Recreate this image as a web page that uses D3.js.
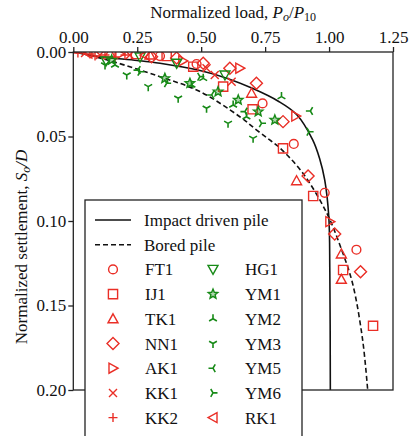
<!DOCTYPE html>
<html>
  <head>
    <meta charset="utf-8" />
    <script src="https://d3js.org/d3.v7.min.js"></script>
    <style>
      body { margin: 0; background: #fff; }
      text { font-family: 'Liberation Serif', 'Times New Roman', 'DejaVu Serif', serif; fill: #111; }
    </style>
  </head>
  <body>
    <div id="chart"></div>
    <script>
      // fitted curves [load, settlement]
      var impactX = [0, 0.104, 0.25, 0.339, 0.495, 0.6, 0.7, 0.8, 0.873, 0.936, 0.963, 0.983, 0.999, 1.003, 1.005];
      var impactY = [0, 0.0028, 0.005, 0.0067, 0.011, 0.0155, 0.0215, 0.029, 0.037, 0.052, 0.063, 0.0757, 0.0976, 0.13, 0.2];
      var boredX = [0, 0.026, 0.155, 0.339, 0.495, 0.651, 0.717, 0.768, 0.808, 0.897, 0.991, 1.049, 1.092, 1.131, 1.151];
      var boredY = [0, 0.0006, 0.0057, 0.0146, 0.0234, 0.0383, 0.0462, 0.052, 0.0568, 0.0716, 0.0953, 0.117, 0.137, 0.17, 0.2];

      // test piles [Po/P10, So/D]
      var FT1 = [[0.339, 0.0024], [0.482, 0.0071], [0.74, 0.0304], [0.862, 0.0544], [0.983, 0.0833], [1.107, 0.117]];
      var IJ1 = [[0.245, 0.0012], [0.365, 0.0024], [0.469, 0.0087], [0.586, 0.0205], [0.701, 0.0339], [0.82, 0.057], [0.938, 0.0852], [1.055, 0.129], [1.172, 0.162]];
      var TK1 = [[0.143, 0.0006], [0.3, 0.0018], [0.697, 0.0244], [0.873, 0.0762], [1.048, 0.1195], [1.048, 0.1345]];
      var NN1 = [[0.306, 0.0028], [0.404, 0.0036], [0.508, 0.0067], [0.612, 0.0096], [0.716, 0.0185], [0.82, 0.0412], [0.918, 0.0734], [1.022, 0.1077], [1.123, 0.13]];
      var AK1 = [[0.182, 0.0012], [0.428, 0.0053], [0.651, 0.0096], [0.87, 0.0379], [1.003, 0.1004]];
      var KK1 = [[0.046, 0.0006], [0.104, 0.0018], [0.221, 0.0018], [0.521, 0.0096], [0.553, 0.0136], [0.619, 0.0176]];
      var KK2 = [[0.018, 0.0006], [0.065, 0.0012], [0.085, 0.0024], [0.124, 0.0018], [0.163, 0.003], [0.202, 0.0018]];
      var HG1 = [[0.128, 0.0053], [0.261, 0.003], [0.404, 0.0067], [0.593, 0.0136]];
      var YM1 = [[0.15, 0.0047], [0.358, 0.0156], [0.456, 0.0185], [0.566, 0.0235], [0.645, 0.0284], [0.723, 0.0353], [0.788, 0.0402]];
      var YM2 = [[0.163, 0.0077], [0.462, 0.0195], [0.508, 0.0156], [0.625, 0.0314], [0.677, 0.0383], [0.814, 0.0264]];
      var YM3 = [[0.124, 0.0077], [0.209, 0.0136], [0.293, 0.0205], [0.41, 0.0274], [0.521, 0.0333], [0.605, 0.0422], [0.703, 0.0511]];
      var YM5 = [[0.253, 0.0107], [0.541, 0.0254], [0.671, 0.0353], [0.927, 0.0349]];
      var YM6 = [[0.261, 0.0117], [0.365, 0.0185], [0.495, 0.0146], [0.736, 0.0422], [0.922, 0.0472]];
      var RK1 = [[0.057, 0.0006], [0.28, 0.0018]];

      var xTicks = [0, 0.25, 0.5, 0.75, 1.0, 1.25];
      var yTicks = [0, 0.05, 0.1, 0.15, 0.2];

      var red = '#ea2e26', green = '#178a17';
      var series = [
        { name: 'FT1', data: FT1, shape: 'circle', color: red },
        { name: 'IJ1', data: IJ1, shape: 'square', color: red },
        { name: 'TK1', data: TK1, shape: 'triUp', color: red },
        { name: 'NN1', data: NN1, shape: 'diamond', color: red },
        { name: 'AK1', data: AK1, shape: 'triRight', color: red },
        { name: 'KK1', data: KK1, shape: 'x', color: red },
        { name: 'KK2', data: KK2, shape: 'plus', color: red },
        { name: 'HG1', data: HG1, shape: 'triDown', color: green },
        { name: 'YM1', data: YM1, shape: 'star', color: green },
        { name: 'YM2', data: YM2, shape: 'spokeUp', color: green },
        { name: 'YM3', data: YM3, shape: 'spokeDown', color: green },
        { name: 'YM5', data: YM5, shape: 'spokeLeft', color: green },
        { name: 'YM6', data: YM6, shape: 'spokeRight', color: green },
        { name: 'RK1', data: RK1, shape: 'triLeft', color: red }
      ];

      var width = 414, height = 436;
      var margin = { left: 73.3, right: 21, top: 52, bottom: 46 };
      var fontSize = '17px';

      var svg = d3.select('#chart').append('svg')
        .attr('width', width).attr('height', height);

      var x = d3.scaleLinear().domain([0, 1.25]).range([margin.left, width - margin.right]);
      var y = d3.scaleLinear().domain([0, 0.2]).range([margin.top, height - margin.bottom]);

      svg.append('clipPath').attr('id', 'clip').append('rect')
        .attr('x', x(0)).attr('y', y(0))
        .attr('width', x(1.25) - x(0)).attr('height', y(0.2) - y(0));

      // marker path, centered on 0,0
      function markerPath(shape) {
        var p = d3.path();
        var r = 4.6;
        function poly(pts) {
          p.moveTo(pts[0][0], pts[0][1]);
          pts.slice(1).forEach(function (q) { p.lineTo(q[0], q[1]); });
          p.closePath();
        }
        function spokes(a0) {
          for (var k = 0; k < 3; k++) {
            var a = a0 + k * 2 * Math.PI / 3;
            p.moveTo(0, 0);
            p.lineTo(4.5 * Math.cos(a), 4.5 * Math.sin(a));
          }
        }
        if (shape === 'square') { poly([[-r, -r], [r, -r], [r, r], [-r, r]]); }
        else if (shape === 'triUp') { poly([[0, -5], [5, 4], [-5, 4]]); }
        else if (shape === 'triDown') { poly([[0, 5], [5, -4], [-5, -4]]); }
        else if (shape === 'triRight') { poly([[5, 0], [-4, -5], [-4, 5]]); }
        else if (shape === 'triLeft') { poly([[-5, 0], [4, -5], [4, 5]]); }
        else if (shape === 'diamond') { poly([[0, -6], [6, 0], [0, 6], [-6, 0]]); }
        else if (shape === 'x') { p.moveTo(-4, -4); p.lineTo(4, 4); p.moveTo(4, -4); p.lineTo(-4, 4); }
        else if (shape === 'plus') { p.moveTo(-4.5, 0); p.lineTo(4.5, 0); p.moveTo(0, -4.5); p.lineTo(0, 4.5); }
        else if (shape === 'star') {
          var pts = [];
          for (var i = 0; i < 10; i++) {
            var a = -Math.PI / 2 + i * Math.PI / 5;
            var rr = i % 2 === 0 ? 5 : 2.2;
            pts.push([rr * Math.cos(a), rr * Math.sin(a)]);
          }
          poly(pts);
        }
        else if (shape === 'spokeUp') { spokes(-Math.PI / 2); }
        else if (shape === 'spokeDown') { spokes(Math.PI / 2); }
        else if (shape === 'spokeLeft') { spokes(Math.PI); }
        else if (shape === 'spokeRight') { spokes(0); }
        return p.toString();
      }

      function drawMarker(g, s) {
        if (s.shape === 'circle') {
          g.append('circle').attr('r', 4.4)
            .attr('fill', 'none').attr('stroke', s.color).attr('stroke-width', 1.4);
        } else {
          var filled = s.shape === 'star';
          g.append('path').attr('d', markerPath(s.shape))
            .attr('fill', filled ? s.color : 'none')
            .attr('fill-opacity', filled ? 0.35 : 1)
            .attr('stroke', s.color)
            .attr('stroke-width', s.shape.indexOf('spoke') === 0 ? 1.6 : 1.4)
            .attr('stroke-linejoin', 'miter');
        }
      }

      // curves
      var line = d3.line()
        .x(function (d) { return x(d[0]); })
        .y(function (d) { return y(d[1]); })
        .curve(d3.curveCatmullRom.alpha(0.5));

      var plot = svg.append('g').attr('clip-path', 'url(#clip)');

      plot.append('path')
        .attr('d', line(impactX.map(function (v, i) { return [v, impactY[i]]; })))
        .attr('fill', 'none').attr('stroke', '#111').attr('stroke-width', 1.6);

      plot.append('path')
        .attr('d', line(boredX.map(function (v, i) { return [v, boredY[i]]; })))
        .attr('fill', 'none').attr('stroke', '#111').attr('stroke-width', 1.6)
        .attr('stroke-dasharray', '5,3');

      // scatter
      series.forEach(function (s) {
        s.data.forEach(function (d) {
          var g = plot.append('g').attr('transform', 'translate(' + x(d[0]) + ',' + y(d[1]) + ')');
          drawMarker(g, s);
        });
      });

      // axes frame
      svg.append('rect')
        .attr('x', x(0)).attr('y', y(0))
        .attr('width', x(1.25) - x(0)).attr('height', y(0.2) - y(0))
        .attr('fill', 'none').attr('stroke', '#222').attr('stroke-width', 1.3);

      var xAxis = svg.append('g')
        .attr('transform', 'translate(0,' + y(0) + ')')
        .call(d3.axisTop(x).tickValues(xTicks).tickFormat(d3.format('.2f')).tickSize(5).tickPadding(4));
      var yAxis = svg.append('g')
        .attr('transform', 'translate(' + x(0) + ',0)')
        .call(d3.axisLeft(y).tickValues(yTicks).tickFormat(d3.format('.2f')).tickSize(5).tickPadding(2));
      [xAxis, yAxis].forEach(function (a) {
        a.attr('font-family', null).attr('font-size', null);
        a.select('.domain').remove();
        a.selectAll('line').attr('stroke', '#222').attr('stroke-width', 1.3);
        a.selectAll('text').style('font-size', fontSize).attr('fill', '#111');
      });

      // titles
      var xt = svg.append('text').attr('x', x(0.625)).attr('y', 18)
        .attr('text-anchor', 'middle').style('font-size', fontSize);
      xt.append('tspan').text('Normalized load, ');
      xt.append('tspan').attr('font-style', 'italic').text('P');
      xt.append('tspan').attr('font-style', 'italic').attr('font-size', '12px').attr('dy', 3).text('o');
      xt.append('tspan').attr('dy', -3).text('/');
      xt.append('tspan').attr('font-style', 'italic').text('P');
      xt.append('tspan').attr('font-size', '12px').attr('dy', 3).text('10');

      var yt = svg.append('text')
        .attr('transform', 'translate(27,247) rotate(-90)')
        .attr('text-anchor', 'middle').style('font-size', fontSize);
      yt.append('tspan').text('Normalized settlement, ');
      yt.append('tspan').attr('font-style', 'italic').text('S');
      yt.append('tspan').attr('font-style', 'italic').attr('font-size', '12px').attr('dy', 3).text('o');
      yt.append('tspan').attr('dy', -3).attr('font-style', 'italic').text('/D');

      // legend
      var lg = svg.append('g');
      lg.append('rect').attr('x', 85).attr('y', 200).attr('width', 217).attr('height', 260)
        .attr('fill', '#fff').attr('stroke', '#222').attr('stroke-width', 1.3);

      var rowY = function (i) { return 220 + i * 24.7; };
      lg.append('line').attr('x1', 95).attr('x2', 131).attr('y1', rowY(0)).attr('y2', rowY(0))
        .attr('stroke', '#111').attr('stroke-width', 1.6);
      lg.append('line').attr('x1', 95).attr('x2', 131).attr('y1', rowY(1)).attr('y2', rowY(1))
        .attr('stroke', '#111').attr('stroke-width', 1.6).attr('stroke-dasharray', '5,3');
      lg.append('text').attr('x', 144).attr('y', rowY(0) + 6).style('font-size', fontSize).text('Impact driven pile');
      lg.append('text').attr('x', 144).attr('y', rowY(1) + 6).style('font-size', fontSize).text('Bored pile');

      series.forEach(function (s, i) {
        var col = i < 7 ? 0 : 1;
        var row = i < 7 ? i + 2 : i - 7 + 2;
        var mx = col === 0 ? 113 : 213;
        var g = lg.append('g').attr('transform', 'translate(' + mx + ',' + rowY(row) + ')');
        drawMarker(g, s);
        lg.append('text').attr('x', mx + 32).attr('y', rowY(row) + 6)
          .style('font-size', fontSize).text(s.name);
      });
    </script>
  </body>
</html>
